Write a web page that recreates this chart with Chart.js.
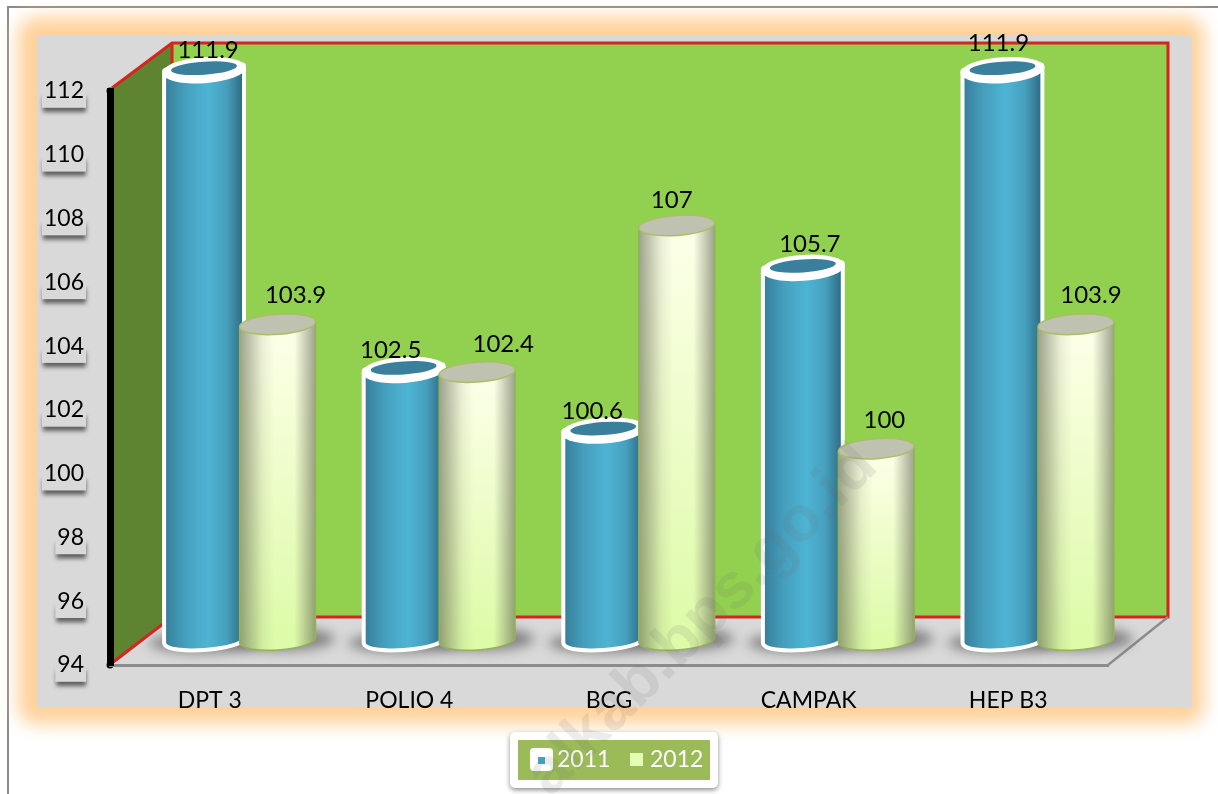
<!DOCTYPE html>
<html>
<head>
<meta charset="utf-8">
<title>Imunisasi 2011 - 2012</title>
<style>
    html, body { margin: 0; padding: 0; background: #fff; overflow: hidden; }
    canvas { display: block; }
</style>
</head>
<body>
<canvas id="chart" width="1218" height="794"></canvas>
<script src="https://cdn.jsdelivr.net/npm/chart.js@4"></script>
<script>
// Data
const categories = ['DPT 3', 'POLIO 4', 'BCG', 'CAMPAK', 'HEP B3'];
const seriesNames = ['2011', '2012'];
const values2011 = [111.9, 102.5, 100.6, 105.7, 111.9];
const values2012 = [103.9, 102.4, 107, 100, 103.9];
const yMin = 94;
const yMax = 112;
const yStep = 2;

// Hand placed value labels in the original, offset from the cylinder top
const labelNudge = [
    [[4, -19], [18, -29]],
    [[-13, -19], [26, -28]],
    [[-11, -18], [-5, -25]],
    [[7, -23], [8, -28]],
    [[-4, -26], [15, -29]]
];

const FONT = 'Lato, "Liberation Sans", sans-serif';
const GREY = '#d9d9d9';
const depthX = 31;
const depthY = -25;
const tilt = -0.07;

function polygon(ctx, pts, fill) {
    ctx.beginPath();
    pts.forEach((p, i) => i ? ctx.lineTo(p[0], p[1]) : ctx.moveTo(p[0], p[1]));
    ctx.closePath();
    if (fill) {
        ctx.fillStyle = fill;
        ctx.fill();
    }
}

function roundBox(ctx, x, y, w, h, r, fill) {
    ctx.beginPath();
    ctx.roundRect(x, y, w, h, r);
    ctx.fillStyle = fill;
    ctx.fill();
}

// Cylinder outline: left edge, round bottom, right edge
function bodyPath(ctx, x, top, base, w, ry) {
    const dx = w / 2 * Math.cos(tilt);
    const dy = w / 2 * Math.sin(tilt);
    ctx.beginPath();
    ctx.moveTo(x - dx, top - dy);
    ctx.ellipse(x, base, w / 2, ry, tilt, Math.PI, 0, true);
    ctx.lineTo(x + dx, top + dy);
    ctx.closePath();
}

function drawBlue(ctx, bar) {
    const x = bar.x + depthX;
    const top = bar.y + depthY;
    const base = bar.base + depthY;
    const w = bar.width;

    bodyPath(ctx, x, top, base, w, 8);
    ctx.strokeStyle = '#fff';
    ctx.lineWidth = 8;
    ctx.lineJoin = 'round';
    ctx.stroke();

    const g = ctx.createLinearGradient(x - w / 2, 0, x + w / 2, 0);
    g.addColorStop(0, '#37809c');
    g.addColorStop(0.25, '#459fbd');
    g.addColorStop(0.55, '#4eb4d4');
    g.addColorStop(0.8, '#469fbd');
    g.addColorStop(1, '#2f6d85');
    bodyPath(ctx, x, top, base, w, 8);
    ctx.fillStyle = g;
    ctx.fill();

    ctx.beginPath();
    ctx.ellipse(x, top + 1, w / 2 + 4, 13, tilt, 0, Math.PI * 2);
    ctx.fillStyle = '#fff';
    ctx.fill();
    ctx.beginPath();
    ctx.ellipse(x, top - 1, w / 2 - 5, 6.5, tilt, 0, Math.PI * 2);
    ctx.fillStyle = '#3a7f9b';
    ctx.fill();
}

function drawPale(ctx, bar) {
    const x = bar.x + depthX;
    const top = bar.y + depthY;
    const base = bar.base + depthY;
    const w = bar.width;

    const v = ctx.createLinearGradient(0, top, 0, base);
    v.addColorStop(0, '#fdffe9');
    v.addColorStop(1, '#ddfba8');
    bodyPath(ctx, x, top, base, w, 10);
    ctx.fillStyle = v;
    ctx.fill();

    const h = ctx.createLinearGradient(x - w / 2, 0, x + w / 2, 0);
    h.addColorStop(0, 'rgba(95,100,80,0.6)');
    h.addColorStop(0.3, 'rgba(95,100,80,0.1)');
    h.addColorStop(0.45, 'rgba(95,100,80,0)');
    h.addColorStop(0.72, 'rgba(95,100,80,0)');
    h.addColorStop(1, 'rgba(95,100,80,0.6)');
    bodyPath(ctx, x, top, base, w, 10);
    ctx.fillStyle = h;
    ctx.fill();
    ctx.strokeStyle = '#93b356';
    ctx.lineWidth = 1.5;
    ctx.stroke();

    ctx.beginPath();
    ctx.ellipse(x, top, w / 2, 10, tilt, 0, Math.PI * 2);
    ctx.fillStyle = '#bfc1b1';
    ctx.fill();
    ctx.strokeStyle = '#a8bf63';
    ctx.lineWidth = 1.5;
    ctx.stroke();
}

const scenePlugin = {
    id: 'scene',
    beforeDraw(chart) {
        const { ctx, chartArea: a } = chart;
        const back = { left: a.left + 62, right: a.right + 60, top: a.top - 48, bottom: a.bottom - 48 };

        ctx.save();
        ctx.fillStyle = '#fff';
        ctx.fillRect(0, 0, chart.width, chart.height);

        // Page frame, only top and left show
        ctx.fillStyle = '#8c8c8c';
        ctx.fillRect(7, 6, chart.width - 7, 2);
        ctx.fillRect(7, 6, 2, chart.height - 6);

        // Orange glow and grey chart panel
        ctx.save();
        ctx.filter = 'blur(9px)';
        roundBox(ctx, 18, 17, 1186, 707, 18, '#ffd19a');
        ctx.restore();
        ctx.fillStyle = GREY;
        ctx.fillRect(37, 36, 1155, 672);

        // Side wall and back wall
        polygon(ctx, [[a.left + 2, a.top - 3], [back.left, back.top], [back.left, back.bottom], [a.left + 2, a.bottom - 2]], '#5f8431');
        polygon(ctx, [[back.left, back.top], [back.right, back.top], [back.right, back.bottom], [back.left, back.bottom]], '#92d050');

        // Red edges of the walls
        ctx.strokeStyle = '#d8231f';
        ctx.lineWidth = 3;
        ctx.beginPath();
        ctx.moveTo(a.left + 2, a.bottom - 2);
        ctx.lineTo(back.left, back.bottom);
        ctx.lineTo(back.right, back.bottom);
        ctx.lineTo(back.right, back.top);
        ctx.lineTo(back.left, back.top);
        ctx.lineTo(a.left + 2, a.top - 3);
        ctx.moveTo(back.left, back.top);
        ctx.lineTo(back.left, back.top + 20);
        ctx.stroke();

        // Floor edge on the right
        ctx.strokeStyle = '#8c8c8c';
        ctx.lineWidth = 2.5;
        ctx.beginPath();
        ctx.moveTo(a.right, a.bottom);
        ctx.lineTo(back.right, back.bottom);
        ctx.stroke();

        // Rounded ends of the black axis
        ctx.fillStyle = '#000';
        [a.top, a.bottom].forEach(y => {
            ctx.beginPath();
            ctx.arc(a.left, y, 3.5, 0, Math.PI * 2);
            ctx.fill();
        });

        // Soft shadow under the tick label boxes
        const yScale = chart.scales.y;
        ctx.font = '23px ' + FONT;
        ctx.filter = 'blur(2px)';
        yScale.ticks.forEach((tick, i) => {
            const y = yScale.getPixelForTick(i);
            const tw = ctx.measureText(String(tick.value)).width;
            ctx.fillStyle = '#5e5e5e';
            ctx.fillRect(84 - tw - 1, y + 6, tw + 3, 15);
        });
        ctx.restore();
    },
    beforeDatasetsDraw(chart) {
        const { ctx } = chart;
        const blue = chart.getDatasetMeta(0).data;
        const pale = chart.getDatasetMeta(1).data;

        ctx.save();
        // Floor shadows
        ctx.filter = 'blur(6px)';
        ctx.fillStyle = 'rgba(110,110,110,0.8)';
        blue.forEach(bar => {
            ctx.beginPath();
            ctx.ellipse(bar.x + depthX, bar.base + depthY + 3, bar.width / 2 + 17, 10, 0, 0, Math.PI * 2);
            ctx.fill();
        });
        pale.forEach(bar => {
            ctx.beginPath();
            ctx.ellipse(bar.x + depthX + 2, bar.base + depthY - 1, bar.width / 2 + 17, 12, 0, 0, Math.PI * 2);
            ctx.fill();
        });
        ctx.filter = 'none';

        // The second series sits in front of the first one
        blue.forEach(bar => drawBlue(ctx, bar));
        pale.forEach(bar => drawPale(ctx, bar));
        ctx.restore();
        return false;
    },
    afterDraw(chart) {
        const { ctx } = chart;
        ctx.save();

        // Value labels
        ctx.fillStyle = '#000';
        ctx.font = '24px ' + FONT;
        ctx.textAlign = 'center';
        ctx.textBaseline = 'middle';
        chart.data.datasets.forEach((ds, d) => {
            chart.getDatasetMeta(d).data.forEach((bar, i) => {
                const n = labelNudge[i][d];
                ctx.fillText(String(ds.data[i]), bar.x + depthX + n[0], bar.y + depthY + n[1]);
            });
        });

        // Legend box
        ctx.save();
        ctx.shadowColor = 'rgba(0,0,0,0.45)';
        ctx.shadowBlur = 5;
        ctx.shadowOffsetY = 2;
        roundBox(ctx, 510, 732, 208, 56, 5, '#fff');
        ctx.restore();
        ctx.fillStyle = '#9bbb59';
        ctx.fillRect(518, 740, 192, 40);
        roundBox(ctx, 530, 748, 23, 23, 4, '#fff');
        ctx.fillStyle = '#45a5c4';
        ctx.fillRect(538, 757, 7, 7);
        ctx.fillStyle = '#e4fdb6';
        ctx.fillRect(630, 753, 13, 13);
        ctx.fillStyle = '#fff';
        ctx.textAlign = 'left';
        ctx.font = '23px ' + FONT;
        ctx.fillText(seriesNames[0], 557, 760);
        ctx.fillText(seriesNames[1], 650, 760);

        // Source watermark across the picture
        ctx.translate(550, 798);
        ctx.rotate(-0.785);
        ctx.font = 'bold 64px "Liberation Sans", sans-serif';
        ctx.fillStyle = 'rgba(110,110,110,0.13)';
        ctx.textBaseline = 'alphabetic';
        ctx.fillText('alkab.bps.go.id', 0, 0);
        ctx.restore();
    }
};

new Chart(document.getElementById('chart'), {
    type: 'bar',
    data: {
        labels: categories,
        datasets: [
            { label: seriesNames[0], data: values2011, base: yMin, backgroundColor: '#4bacc6', categoryPercentage: 0.7365, barPercentage: 1.035 },
            { label: seriesNames[1], data: values2012, base: yMin, backgroundColor: '#e4fdb6', categoryPercentage: 0.7365, barPercentage: 1.035 }
        ]
    },
    options: {
        responsive: false,
        animation: false,
        layout: { padding: { top: 91, right: 110, left: 0, bottom: 0 } },
        plugins: {
            legend: { display: false },
            title: { display: false },
            tooltip: { enabled: false }
        },
        scales: {
            x: {
                grid: { display: false },
                border: { color: '#8c8c8c', width: 3 },
                ticks: { color: '#000', font: { family: FONT, size: 23 }, padding: 14, maxRotation: 0 },
                afterFit: s => { s.height = 129; }
            },
            y: {
                min: yMin,
                max: yMax,
                grid: { display: false, drawTicks: false },
                border: { color: '#000', width: 7 },
                ticks: {
                    stepSize: yStep,
                    color: '#000',
                    font: { family: FONT, size: 23 },
                    padding: 26,
                    showLabelBackdrop: true,
                    backdropColor: GREY,
                    backdropPadding: { top: 1, bottom: 3, left: 2, right: 2 }
                },
                afterFit: s => { s.width = 110; }
            }
        }
    },
    plugins: [scenePlugin]
});
</script>
</body>
</html>
